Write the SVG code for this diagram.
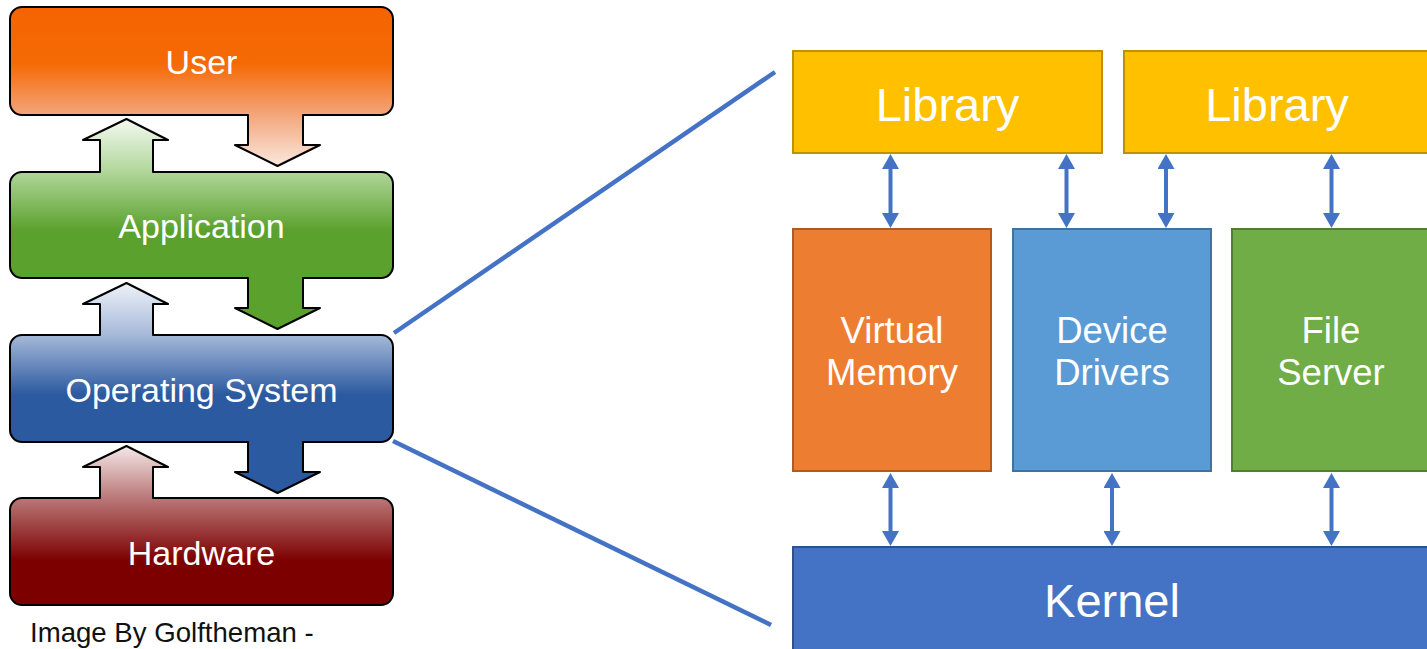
<svg xmlns="http://www.w3.org/2000/svg" width="1427" height="649" viewBox="0 0 1427 649">
<style>
.layer{stroke:#000;stroke-width:2;stroke-linejoin:round}
.lt{font-family:"Liberation Sans",Arial,sans-serif;font-size:34px;fill:#fff;text-anchor:middle}
.rt{font-family:"Liberation Sans",Arial,sans-serif;fill:#fff;text-anchor:middle}
.big{font-size:47px}
.mid{font-size:36.5px}
.box{stroke-width:2}
.conn{stroke:#4472c4;stroke-width:4;fill:none}
.link{stroke:#4472c4;stroke-width:4.5;fill:none}
</style>
<defs>
<linearGradient id="gUser" gradientUnits="userSpaceOnUse" x1="0" y1="7" x2="0" y2="166">
<stop offset="0" stop-color="#f56400"/>
<stop offset="0.36" stop-color="#f56a06"/>
<stop offset="0.68" stop-color="#f3a67c"/>
<stop offset="1" stop-color="#fbe8de"/>
</linearGradient>
<linearGradient id="gApp" gradientUnits="userSpaceOnUse" x1="0" y1="119" x2="0" y2="329">
<stop offset="0" stop-color="#f4f9f1"/>
<stop offset="0.252" stop-color="#b0d69a"/>
<stop offset="0.53" stop-color="#5ba12d"/>
<stop offset="1" stop-color="#5ba12d"/>
</linearGradient>
<linearGradient id="gOS" gradientUnits="userSpaceOnUse" x1="0" y1="283" x2="0" y2="493">
<stop offset="0" stop-color="#eef2f8"/>
<stop offset="0.248" stop-color="#a6b9d9"/>
<stop offset="0.53" stop-color="#2c5aa0"/>
<stop offset="1" stop-color="#2c5aa0"/>
</linearGradient>
<linearGradient id="gHW" gradientUnits="userSpaceOnUse" x1="0" y1="446" x2="0" y2="605">
<stop offset="0" stop-color="#f5e8e8"/>
<stop offset="0.327" stop-color="#ba7878"/>
<stop offset="0.72" stop-color="#7d0000"/>
<stop offset="1" stop-color="#7d0000"/>
</linearGradient>
<marker id="ah" markerUnits="userSpaceOnUse" markerWidth="16" markerHeight="17" viewBox="0 0 15 17" refX="5" refY="8.5" orient="auto-start-reverse">
<path d="M0,0 L15,8.5 L0,17 Z" fill="#4472c4"/>
</marker>
</defs>
<rect width="1427" height="649" fill="#fff"/>

<g id="user">
<path class="layer" fill="url(#gUser)" d="M22,7 H381 A12,12 0 0 1 393,19 V103 A12,12 0 0 1 381,115 H303 V145 H320 L277.5,166 L235,145 H248 V115 H22 A12,12 0 0 1 10,103 V19 A12,12 0 0 1 22,7 Z"/>
<text class="lt" x="201.5" y="74">User</text>
</g>
<g id="application">
<path class="layer" fill="url(#gApp)" d="M22,172 H100 V140 H83 L126.5,119 L168,140 H153 V172 H381 A12,12 0 0 1 393,184 V266 A12,12 0 0 1 381,278 H303 V308 H320 L277.5,329 L235,308 H248 V278 H22 A12,12 0 0 1 10,266 V184 A12,12 0 0 1 22,172 Z"/>
<text class="lt" x="201.5" y="238">Application</text>
</g>
<g id="operating-system">
<path class="layer" fill="url(#gOS)" d="M22,335 H100 V304 H83 L126.5,283 L168,304 H153 V335 H381 A12,12 0 0 1 393,347 V430 A12,12 0 0 1 381,442 H303 V472 H320 L277.5,493 L235,472 H248 V442 H22 A12,12 0 0 1 10,430 V347 A12,12 0 0 1 22,335 Z"/>
<text class="lt" x="201.5" y="402">Operating System</text>
</g>
<g id="hardware">
<path class="layer" fill="url(#gHW)" d="M22,498 H100 V467 H83 L126.5,446 L168,467 H153 V498 H381 A12,12 0 0 1 393,510 V593 A12,12 0 0 1 381,605 H22 A12,12 0 0 1 10,593 V510 A12,12 0 0 1 22,498 Z"/>
<text class="lt" x="201.5" y="565">Hardware</text>
</g>
<g id="credit">
<text x="30" y="642" font-family="'Liberation Sans',Arial,sans-serif" font-size="27.6" fill="#111">Image By Golftheman -</text>
</g>

<g id="library-1">
<rect class="box" x="793" y="51" width="309" height="102" fill="#ffc000" stroke="#bf9000"/>
<text class="rt big" x="947.5" y="121">Library</text>
</g>
<g id="library-2">
<rect class="box" x="1124" y="51" width="309" height="102" fill="#ffc000" stroke="#bf9000"/>
<text class="rt big" x="1277" y="121">Library</text>
</g>
<g id="virtual-memory">
<rect class="box" x="793" y="229" width="198" height="242" fill="#ed7d31" stroke="#ae5a21"/>
<text class="rt mid" x="892" y="343">Virtual</text>
<text class="rt mid" x="892" y="385">Memory</text>
</g>
<g id="device-drivers">
<rect class="box" x="1013" y="229" width="198" height="242" fill="#5b9bd5" stroke="#41719c"/>
<text class="rt mid" x="1112" y="343">Device</text>
<text class="rt mid" x="1112" y="385">Drivers</text>
</g>
<g id="file-server">
<rect class="box" x="1232" y="229" width="198" height="242" fill="#70ad47" stroke="#507e32"/>
<text class="rt mid" x="1331" y="343">File</text>
<text class="rt mid" x="1331" y="385">Server</text>
</g>
<g id="kernel">
<rect class="box" x="793" y="547" width="640" height="110" fill="#4472c4" stroke="#2f528f"/>
<text class="rt big" x="1112" y="617">Kernel</text>
</g>

<g id="connectors">
<line class="link" x1="394" y1="333" x2="775" y2="72"/>
<line class="link" x1="393" y1="441" x2="771" y2="625"/>
<line class="conn" x1="890.5" y1="164" x2="890.5" y2="218" marker-start="url(#ah)" marker-end="url(#ah)"/>
<line class="conn" x1="1066.5" y1="164" x2="1066.5" y2="218" marker-start="url(#ah)" marker-end="url(#ah)"/>
<line class="conn" x1="1166" y1="164" x2="1166" y2="218" marker-start="url(#ah)" marker-end="url(#ah)"/>
<line class="conn" x1="1331.5" y1="164" x2="1331.5" y2="218" marker-start="url(#ah)" marker-end="url(#ah)"/>
<line class="conn" x1="890.5" y1="483" x2="890.5" y2="536" marker-start="url(#ah)" marker-end="url(#ah)"/>
<line class="conn" x1="1112" y1="483" x2="1112" y2="536" marker-start="url(#ah)" marker-end="url(#ah)"/>
<line class="conn" x1="1331.5" y1="483" x2="1331.5" y2="536" marker-start="url(#ah)" marker-end="url(#ah)"/>
</g>
</svg>
